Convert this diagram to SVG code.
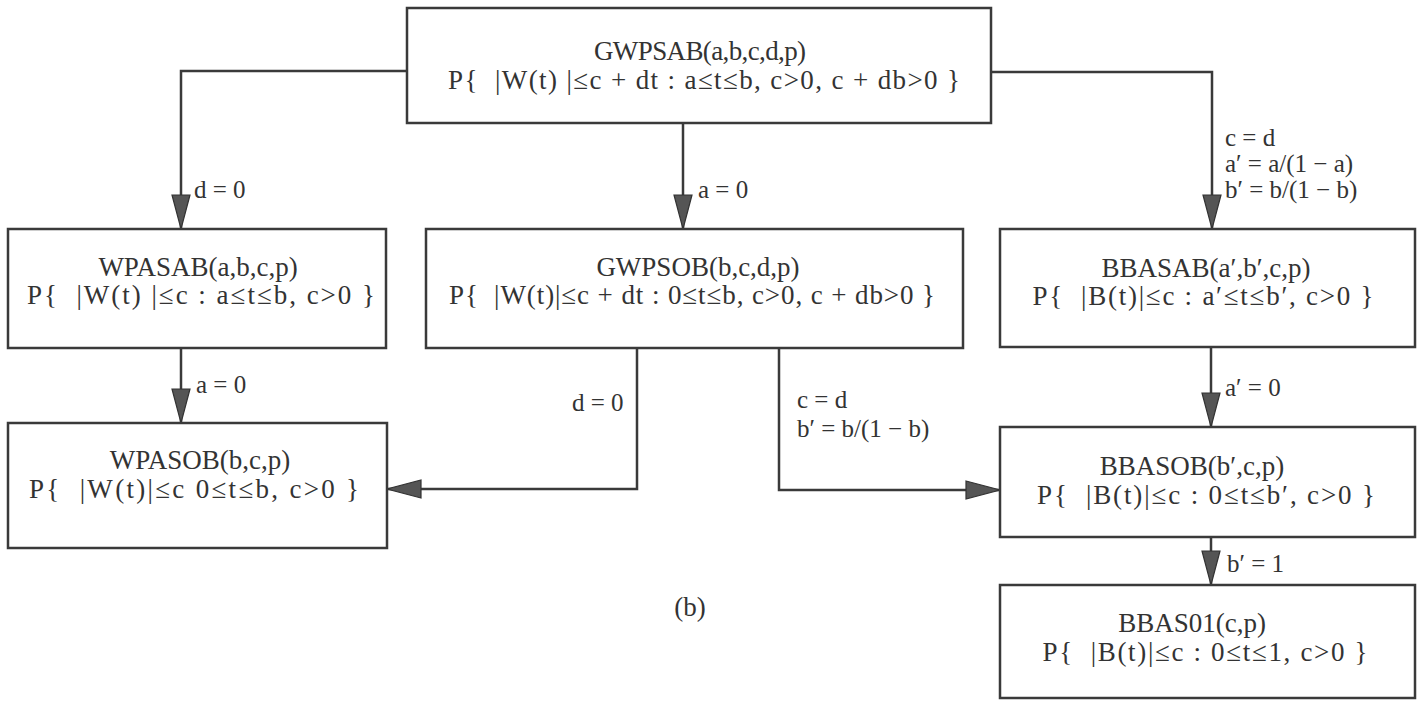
<svg xmlns="http://www.w3.org/2000/svg" width="1423" height="705" viewBox="0 0 1423 705">
  <style>
    .box { fill: #ffffff; stroke: #3a3a3a; stroke-width: 2.5; }
    .t { font-family: "Liberation Serif", "Times New Roman", serif; font-size: 27px; fill: #333333; text-anchor: middle; }
    .lbl { font-family: "Liberation Serif", "Times New Roman", serif; font-size: 25px; fill: #333333; }
    .conn { fill: none; stroke: #3a3a3a; stroke-width: 2.5; }
  </style>
  <defs>
    <marker id="arrow" markerUnits="userSpaceOnUse" markerWidth="36" markerHeight="22" refX="34" refY="11" orient="auto" overflow="visible">
      <path d="M0,2 L34,11 L0,20 Z" fill="#555555" stroke="#333333" stroke-width="1.2"/>
    </marker>
  </defs>
  <rect width="1423" height="705" fill="#ffffff"/>

  <!-- connectors and their condition labels -->
  <g id="connectors">
    <path class="conn" d="M407,71 H181 V229" marker-end="url(#arrow)"/>
    <path class="conn" d="M683,123 V229" marker-end="url(#arrow)"/>
    <path class="conn" d="M991,72 H1212 V229" marker-end="url(#arrow)"/>
    <path class="conn" d="M181,348 V423" marker-end="url(#arrow)"/>
    <path class="conn" d="M637,348 V489 H387" marker-end="url(#arrow)"/>
    <path class="conn" d="M779,348 V490 H1000" marker-end="url(#arrow)"/>
    <path class="conn" d="M1211,347 V427" marker-end="url(#arrow)"/>
    <path class="conn" d="M1211,537 V585" marker-end="url(#arrow)"/>

    <text class="lbl" x="194" y="198">d = 0</text>
    <text class="lbl" x="698" y="198">a = 0</text>
    <text class="lbl" x="1225" y="146">c = d</text>
    <text class="lbl" x="1225" y="172">a′ = a/(1 − a)</text>
    <text class="lbl" x="1225" y="198">b′ = b/(1 − b)</text>
    <text class="lbl" x="196" y="393">a = 0</text>
    <text class="lbl" x="572" y="411">d = 0</text>
    <text class="lbl" x="797" y="408">c = d</text>
    <text class="lbl" x="797" y="437">b′ = b/(1 − b)</text>
    <text class="lbl" x="1225" y="396">a′ = 0</text>
    <text class="lbl" x="1227" y="572">b′ = 1</text>
  </g>

  <g id="GWPSAB">
    <rect class="box" x="407" y="8" width="584" height="115"/>
    <text class="t" x="700" y="60" textLength="212" lengthAdjust="spacing">GWPSAB(a,b,c,d,p)</text>
    <text class="t" x="704" y="89" textLength="512" lengthAdjust="spacing">P{&#160; |W(t) |≤c + dt : a≤t≤b, c&gt;0, c + db&gt;0 }</text>
  </g>

  <g id="WPASAB">
    <rect class="box" x="8" y="229" width="378" height="119"/>
    <text class="t" x="198" y="276">WPASAB(a,b,c,p)</text>
    <text class="t" x="201" y="304" textLength="348" lengthAdjust="spacing">P{&#160; |W(t) |≤c : a≤t≤b, c&gt;0 }</text>
  </g>

  <g id="GWPSOB">
    <rect class="box" x="426" y="229" width="537" height="119"/>
    <text class="t" x="698" y="276">GWPSOB(b,c,d,p)</text>
    <text class="t" x="692" y="304" textLength="486" lengthAdjust="spacing">P{&#160; |W(t)|≤c + dt : 0≤t≤b, c&gt;0, c + db&gt;0 }</text>
  </g>

  <g id="BBASAB">
    <rect class="box" x="1000" y="229" width="415" height="118"/>
    <text class="t" x="1206" y="277">BBASAB(a′,b′,c,p)</text>
    <text class="t" x="1203" y="305" textLength="341" lengthAdjust="spacing">P{&#160; |B(t)|≤c : a′≤t≤b′, c&gt;0 }</text>
  </g>

  <g id="WPASOB">
    <rect class="box" x="8" y="423" width="379" height="125"/>
    <text class="t" x="200" y="469">WPASOB(b,c,p)</text>
    <text class="t" x="194" y="498" textLength="330" lengthAdjust="spacing">P{&#160; |W(t)|≤c 0≤t≤b, c&gt;0 }</text>
  </g>

  <g id="BBASOB">
    <rect class="box" x="1000" y="427" width="415" height="110"/>
    <text class="t" x="1192" y="475">BBASOB(b′,c,p)</text>
    <text class="t" x="1206" y="504" textLength="338" lengthAdjust="spacing">P{&#160; |B(t)|≤c : 0≤t≤b′, c&gt;0 }</text>
  </g>

  <g id="BBAS01">
    <rect class="box" x="1000" y="585" width="415" height="113"/>
    <text class="t" x="1192" y="632">BBAS01(c,p)</text>
    <text class="t" x="1205" y="661" textLength="325" lengthAdjust="spacing">P{&#160; |B(t)|≤c : 0≤t≤1, c&gt;0 }</text>
  </g>

  <text class="t" x="690" y="616">(b)</text>
</svg>
